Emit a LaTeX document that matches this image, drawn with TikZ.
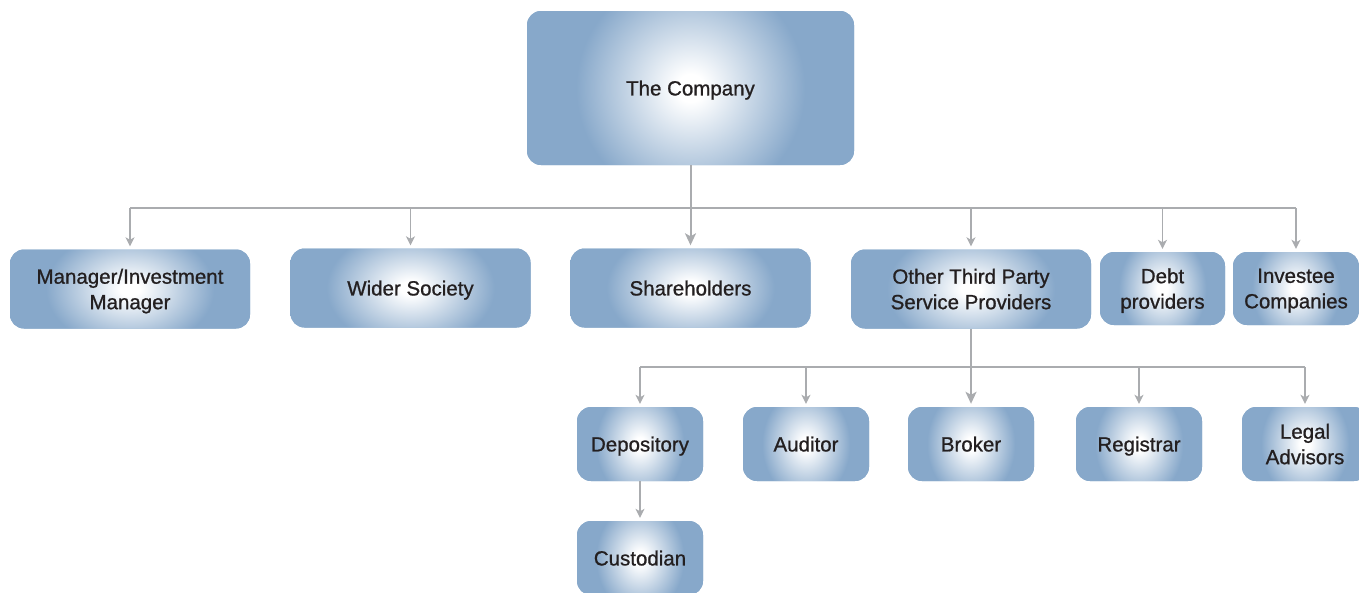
\documentclass[tikz,border=0pt]{standalone}
\usepackage{fontspec}
\setmainfont{Liberation Sans}
\newfontfamily\boxfont{Liberation Sans}[FakeBold=0.9]
\usetikzlibrary{arrows.meta,calc}
\definecolor{boxblue}{RGB}{135,168,202}
\definecolor{ink}{RGB}{35,31,32}
\definecolor{wire}{RGB}{170,172,175}
\pgfdeclareradialshading{boxglow}{\pgfpoint{0bp}{0bp}}
  {color(0bp)=(white); color(1.5bp)=(white); color(12.5bp)=(boxblue); color(50bp)=(boxblue)}

\begin{document}
\begin{tikzpicture}
  [x=1pt,y=-1pt,
   box/.style={rounded corners=14pt,fill=boxblue,text=ink,align=center,inner sep=0pt,text depth=0pt,
     font=\boxfont\fontsize{20.5}{25.5}\selectfont,
     path picture={\path[shading=boxglow,sharp corners]
       let \p1=(path picture bounding box.north east),\p2=(path picture bounding box.south west),
           \p3=(path picture bounding box.center),
           \n1={0.7*(\x1-\x2)},\n2={1.5*(\y1-\y2)} in
       ({\x3-\n1*1pt},{\y3-\n2*1pt}) rectangle ({\x3+\n1*1pt},{\y3+\n2*1pt});}},
   wide/.style={box,minimum width=240pt,minimum height=79pt},
   small/.style={box,minimum width=126pt,minimum height=74pt},
   wireline/.style={draw=wire,line width=1.3pt},
   link/.style={wireline,-{Stealth[length=9pt,width=9pt,inset=2.5pt]},shorten >=3pt},
   trunk/.style={link,line width=2pt,-{Stealth[length=12pt,width=11pt,inset=3pt]}}]
  \useasboundingbox (0,0) rectangle (1359,592);

  \node[box,minimum width=327pt,minimum height=154pt] (company) at (690.5,88) {The Company};

  \node[wide] (manager)    at (130,289)   {Manager/Investment\\Manager};
  \node[wide] (society)    at (410.5,288) {Wider Society};
  \node[wide] (holders)    at (690.5,288) {Shareholders};
  \node[wide] (thirdparty) at (971,289)   {Other Third Party\\Service Providers};
  \node[box,minimum width=125pt,minimum height=73pt] (debt)     at (1162.5,288.5) {Debt\\providers};
  \node[box,minimum width=126pt,minimum height=73pt] (investee) at (1296,288.5)   {Investee\\Companies};

  \node[small] (depository) at (640,444)  {Depository};
  \node[small] (auditor)    at (806,444)  {Auditor};
  \node[small] (broker)     at (971,444)  {Broker};
  \node[small] (registrar)  at (1139,444) {Registrar};
  \node[small] (legal)      at (1305,444) {Legal\\Advisors};
  \node[small] (custodian)  at (640,558)  {Custodian};

  \coordinate (bus1) at (690.5,208);
  \coordinate (bus2) at (971,367);

  \draw[trunk] (company) -- (holders);
  \draw[wireline] (bus1 -| manager) -- (bus1 -| investee);
  \foreach \to in {manager,society,thirdparty,debt,investee}
    \draw[link] (bus1 -| \to) -- (\to);

  \draw[trunk] (thirdparty) -- (broker);
  \draw[wireline] (bus2 -| depository) -- (bus2 -| legal);
  \foreach \to in {depository,auditor,registrar,legal}
    \draw[link] (bus2 -| \to) -- (\to);
  \draw[link] (depository) -- (custodian);
\end{tikzpicture}
\end{document}
